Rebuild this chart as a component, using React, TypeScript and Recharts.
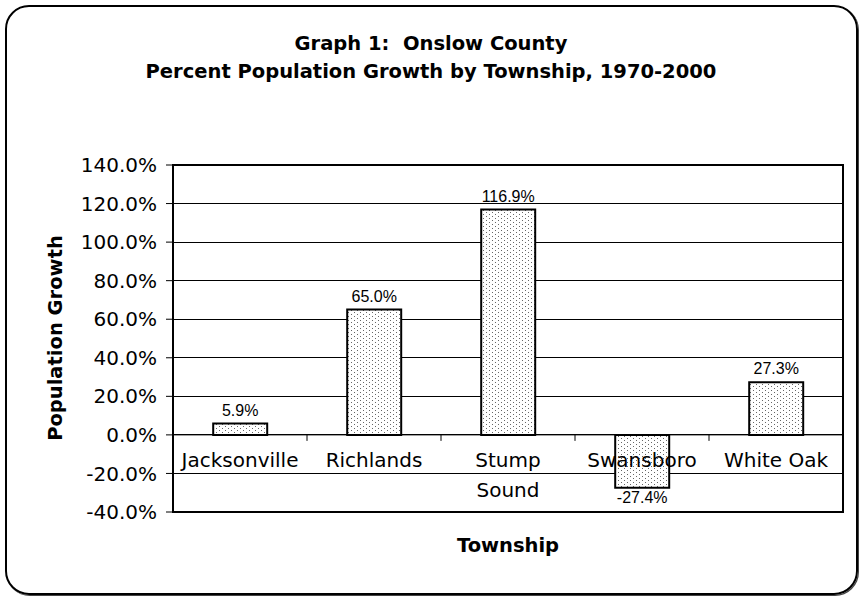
import React from "react";
import {
  BarChart,
  Bar,
  XAxis,
  YAxis,
  CartesianGrid,
  ReferenceLine,
  ReferenceArea,
  LabelList,
} from "recharts";

const townships = ["Jacksonville", "Richlands", "Stump Sound", "Swansboro", "White Oak"];
const growth = [5.9, 65.0, 116.9, -27.4, 27.3];
const yTicks = [-40, -20, 0, 20, 40, 60, 80, 100, 120, 140];

const data = townships.map((name, i) => ({ name, growth: growth[i] }));

const W = 862;
const H = 598;
const MARGIN = { top: 165, right: 19, bottom: 85, left: 0 };
const X_AXIS_H = 1;
const Y_AXIS_W = 173;
const Y_MIN = -40;
const Y_MAX = 140;
const PLOT_H = H - MARGIN.top - MARGIN.bottom - X_AXIS_H;
const PLOT_W = W - MARGIN.left - MARGIN.right - Y_AXIS_W;

const SANS = "'DejaVu Sans', Verdana, sans-serif";
const pct = (v: number) => `${v.toFixed(1)}%`;

// category labels sit on the zero line, like Excel's "axis crosses at 0"
function TownshipTick(props: any) {
  const { x, y, payload, index } = props;
  const zeroY = y - (PLOT_H * (0 - Y_MIN)) / (Y_MAX - Y_MIN);
  const half = PLOT_W / townships.length / 2;
  const label = String(payload.value);
  const lines = label.length > 10 && label.includes(" ") ? label.split(" ") : [label];
  return (
    <g>
      {index < townships.length - 1 && (
        <line x1={x + half} x2={x + half} y1={zeroY} y2={zeroY + 6} stroke="#000" />
      )}
      <text x={x} y={zeroY + 32} textAnchor="middle" fontFamily={SANS} fontSize={20} fill="#000">
        {lines.map((l, i) => (
          <tspan key={i} x={x} dy={i === 0 ? 0 : 30}>
            {l}
          </tspan>
        ))}
      </text>
    </g>
  );
}

function ValueLabel(props: any) {
  const { x, y, width, height, value } = props;
  const top = Math.min(y, y + height);
  const bottom = Math.max(y, y + height);
  const ty = value >= 0 ? top - 8 : bottom + 15;
  return (
    <text
      x={x + width / 2}
      y={ty}
      textAnchor="middle"
      fontFamily="'Liberation Sans', Arial, sans-serif"
      fontSize={16}
      fill="#000"
    >
      {pct(value)}
    </text>
  );
}

export default function App() {
  return (
    <div style={{ position: "relative", width: W, height: H, background: "#fff" }}>
      <style>{`body{margin:0}`}</style>
      <div
        style={{
          position: "absolute",
          left: 5,
          top: 5,
          width: 853,
          height: 590,
          boxSizing: "border-box",
          border: "2px solid #000",
          borderRadius: 24,
          boxShadow: "1px 1px 0 #444",
        }}
      />
      <div
        style={{
          position: "absolute",
          left: 0,
          top: 30,
          width: W,
          textAlign: "center",
          fontFamily: SANS,
          fontWeight: "bold",
          fontSize: 19.5,
          lineHeight: "28px",
          color: "#000",
        }}
      >
        <div>Graph 1:&nbsp; Onslow County</div>
        <div>Percent Population Growth by Township, 1970-2000</div>
      </div>
      <div
        style={{
          position: "absolute",
          left: 55,
          top: 338,
          transform: "translate(-50%, -50%) rotate(-90deg)",
          whiteSpace: "nowrap",
          fontFamily: SANS,
          fontWeight: "bold",
          fontSize: 19.5,
          color: "#000",
        }}
      >
        Population Growth
      </div>
      <div
        style={{
          position: "absolute",
          left: 508,
          top: 545,
          transform: "translate(-50%, -50%)",
          fontFamily: SANS,
          fontWeight: "bold",
          fontSize: 19.5,
          color: "#000",
        }}
      >
        Township
      </div>
      <div style={{ position: "absolute", left: 0, top: 0 }}>
        <BarChart width={W} height={H} data={data} margin={MARGIN} barCategoryGap="30%">
          <defs>
            <pattern id="dots" width={6} height={4} patternUnits="userSpaceOnUse">
              <rect width={6} height={4} fill="#fff" />
              <rect x={0} y={0} width={1} height={1} fill="#666" />
              <rect x={3} y={2} width={1} height={1} fill="#666" />
            </pattern>
          </defs>
          <CartesianGrid vertical={false} stroke="#000" shapeRendering="crispEdges" />
          <XAxis
            dataKey="name"
            height={X_AXIS_H}
            axisLine={false}
            tickLine={false}
            tickSize={0}
            tickMargin={0}
            interval={0}
            tick={<TownshipTick />}
          />
          <YAxis
            domain={[Y_MIN, Y_MAX]}
            ticks={yTicks}
            interval={0}
            allowDataOverflow
            width={Y_AXIS_W}
            tickSize={7}
            tickMargin={9}
            tickFormatter={pct}
            axisLine={{ stroke: "#000", strokeWidth: 2 }}
            tickLine={{ stroke: "#000" }}
            tick={{ fill: "#000", fontSize: 20, fontFamily: SANS }}
          />
          <ReferenceLine y={0} stroke="#000" />
          <Bar
            dataKey="growth"
            fill="url(#dots)"
            stroke="#000"
            strokeWidth={2}
            isAnimationActive={false}
          >
            <LabelList dataKey="growth" content={<ValueLabel />} />
          </Bar>
          <ReferenceArea y1={Y_MIN} y2={Y_MAX} fill="none" stroke="#000" strokeWidth={2} />
        </BarChart>
      </div>
    </div>
  );
}
